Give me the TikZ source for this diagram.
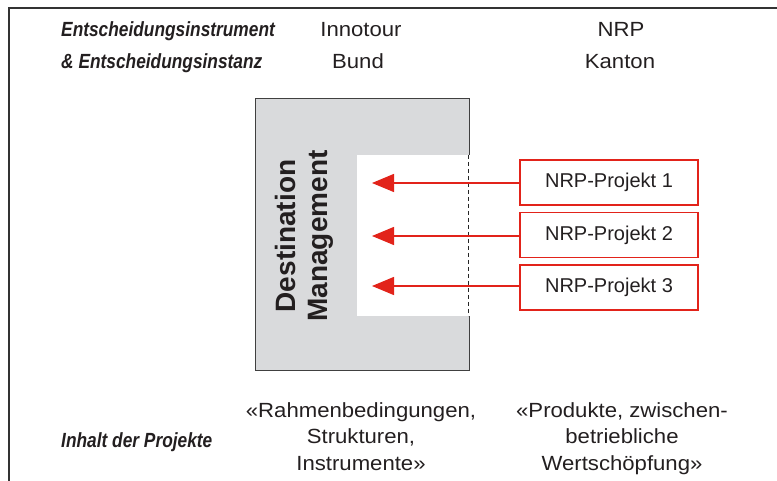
\documentclass[tikz,border=0pt]{standalone}
\usepackage{fontspec}
\setmainfont{Liberation Sans}
\newfontfamily\libreg{Liberation Sans}
\newfontfamily\libwide[FakeStretch=1.08]{Liberation Sans}
\newfontfamily\libcond[FakeStretch=0.845]{Liberation Sans}
\usetikzlibrary{arrows.meta}
\definecolor{boxgray}{HTML}{D9DADC}
\definecolor{nrpred}{HTML}{E2231A}
\definecolor{ink}{HTML}{231F20}
\tikzset{
  headbi/.style={anchor=base west, inner sep=0pt, text=ink, font=\libcond\bfseries\itshape\fontsize{20.5}{24}\selectfont},
  headreg/.style={anchor=base, inner sep=0pt, text=ink, font=\libwide\fontsize{20.5}{24}\selectfont},
  bottomtxt/.style={anchor=north, inner sep=0pt, align=center, text=ink, font=\libwide\fontsize{20.5}{26.5}\selectfont},
  nrpbox/.style={draw=nrpred, line width=1.1pt, minimum width=178pt, minimum height=45pt, inner sep=0pt, text=ink, font=\libreg\fontsize{20}{24}\selectfont},
  redarrow/.style={draw=nrpred, line width=1.3pt, -{Triangle[length=22pt,width=18pt]}},
  frameline/.style={draw=black!80, line width=1.6pt},
  boxline/.style={draw=black!75, line width=1pt}
}
\begin{document}
\begin{tikzpicture}[x=1pt,y=-1pt]
\useasboundingbox (0,0) rectangle (777,481);
% frame
\draw[frameline] (9,481) -- (9,8) -- (777,8);
% header
\node[headbi] (h1) at (61,37) {Entscheidungsinstrument};
\node[headbi] (h2) at (61,69) {\& Entscheidungsinstanz};
\node[headreg] (inno) at (361,37) {Innotour};
\node[headreg] (bund) at (358,69) {Bund};
\node[headreg] (nrp) at (621,37) {NRP};
\node[headreg] (kanton) at (620,69) {Kanton};
% gray box
\fill[boxgray] (255,99) rectangle (469,370);
\fill[white] (357,155) rectangle (469,316);
\draw[boxline] (469,155) -- (469,99) -- (255,99) -- (255,370) -- (469,370) -- (469,316);
\draw[black!85, line width=0.8pt, dash pattern=on 4pt off 3pt] (468,155) -- (468,316);
\node[rotate=90, align=center, inner sep=0pt, text=ink, font=\libreg\bfseries\fontsize{28}{32}\selectfont] (dm) at (304,236) {Destination\\Management};
% NRP boxes
\node[nrpbox] (p1) at (609,182.5) {NRP-Projekt 1};
\node[nrpbox] (p2) at (609,235) {NRP-Projekt 2};
\node[nrpbox] (p3) at (609,287.5) {NRP-Projekt 3};
\coordinate (t1) at (372,183);
\coordinate (t2) at (372,236);
\coordinate (t3) at (372,286);
\draw[redarrow] (p1.west |- t1) -- (t1);
\draw[redarrow] (p2.west |- t2) -- (t2);
\draw[redarrow] (p3.west |- t3) -- (t3);
% bottom
\node[headbi] (inh) at (61,447) {Inhalt der Projekte};
\node[bottomtxt] (bl) at (361,402) {«Rahmenbedingungen,\\Strukturen,\\Instrumente»};
\node[bottomtxt] (br) at (622,402) {«Produkte, zwischen-\\betriebliche\\Wertschöpfung»};
\end{tikzpicture}
\end{document}
